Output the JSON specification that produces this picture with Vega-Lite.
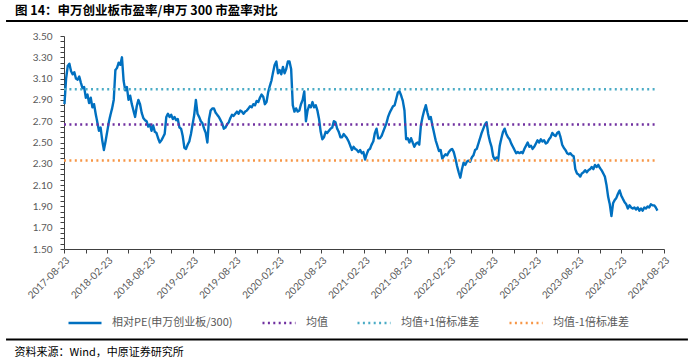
{
"$schema": "https://vega.github.io/schema/vega-lite/v6.json",
"width": 600, "height": 213,
"autosize": {"type": "none"},
"padding": {"left": 64, "top": 36, "right": 36, "bottom": 113},
"background": "white",
"title": {"text": "图 14：申万创业板市盈率/申万 300 市盈率对比", "anchor": "start", "frame": "group", "dx": -49, "offset": 3, "font": "Noto Sans CJK SC", "fontSize": 12.5, "fontWeight": "bold", "color": "#000000"},
"config": {"view": {"stroke": null}, "font": "Noto Sans CJK SC",
  "axis": {"labelOverlap": false},
  "legend": {"orient": "none", "legendX": 3, "legendY": 269, "direction": "horizontal", "columns": 4, "symbolType": "stroke", "symbolSize": 1089, "symbolStrokeWidth": 2.5, "labelFont": "Noto Sans CJK SC", "labelFontSize": 11, "labelColor": "#595959", "labelOffset": 9, "columnPadding": 24, "padding": 0, "title": null, "labelLimit": 400}},
"datasets": {
"pe": [
{"d":"2017-08-25","v":2.86},{"d":"2017-09-01","v":3.10},{"d":"2017-09-08","v":3.22},{"d":"2017-09-15","v":3.24},{"d":"2017-09-22","v":3.17},{"d":"2017-09-29","v":3.14},{"d":"2017-10-06","v":3.16},{"d":"2017-10-13","v":3.10},{"d":"2017-10-20","v":3.09},{"d":"2017-10-27","v":3.12},
{"d":"2017-11-03","v":3.06},{"d":"2017-11-10","v":3.01},{"d":"2017-11-17","v":3.02},{"d":"2017-11-24","v":2.92},{"d":"2017-12-01","v":2.95},{"d":"2017-12-08","v":2.87},{"d":"2017-12-15","v":2.92},{"d":"2017-12-22","v":2.83},{"d":"2017-12-29","v":2.86},
{"d":"2018-01-05","v":2.77},{"d":"2018-01-12","v":2.69},{"d":"2018-01-19","v":2.61},{"d":"2018-01-26","v":2.64},{"d":"2018-02-02","v":2.52},{"d":"2018-02-09","v":2.43},{"d":"2018-02-16","v":2.51},{"d":"2018-02-23","v":2.60},{"d":"2018-03-02","v":2.69},{"d":"2018-03-09","v":2.76},{"d":"2018-03-16","v":2.82},{"d":"2018-03-23","v":2.90},{"d":"2018-03-30","v":3.18},{"d":"2018-04-06","v":3.20},{"d":"2018-04-13","v":3.25},{"d":"2018-04-20","v":3.23},{"d":"2018-04-27","v":3.30},{"d":"2018-05-04","v":3.08},{"d":"2018-05-11","v":2.99},{"d":"2018-05-18","v":3.02},{"d":"2018-05-25","v":2.90},{"d":"2018-06-01","v":2.94},{"d":"2018-06-08","v":2.86},{"d":"2018-06-15","v":2.80},{"d":"2018-06-22","v":2.74},{"d":"2018-06-29","v":2.84},{"d":"2018-07-06","v":2.90},{"d":"2018-07-13","v":2.86},{"d":"2018-07-20","v":2.78},{"d":"2018-07-27","v":2.73},{"d":"2018-08-03","v":2.71},{"d":"2018-08-10","v":2.70},{"d":"2018-08-17","v":2.65},{"d":"2018-08-24","v":2.67},{"d":"2018-08-31","v":2.61},{"d":"2018-09-07","v":2.66},{"d":"2018-09-14","v":2.60},{"d":"2018-09-21","v":2.59},{"d":"2018-09-28","v":2.54},{"d":"2018-10-05","v":2.50},{"d":"2018-10-12","v":2.52},{"d":"2018-10-19","v":2.55},{"d":"2018-10-26","v":2.58},{"d":"2018-11-02","v":2.74},{"d":"2018-11-09","v":2.77},{"d":"2018-11-16","v":2.74},{"d":"2018-11-23","v":2.76},{"d":"2018-11-30","v":2.72},{"d":"2018-12-07","v":2.74},{"d":"2018-12-14","v":2.71},{"d":"2018-12-21","v":2.72},{"d":"2018-12-28","v":2.64},
{"d":"2019-01-04","v":2.63},{"d":"2019-01-11","v":2.56},{"d":"2019-01-18","v":2.45},{"d":"2019-01-25","v":2.44},{"d":"2019-02-01","v":2.48},{"d":"2019-02-08","v":2.51},{"d":"2019-02-15","v":2.58},{"d":"2019-02-22","v":2.67},{"d":"2019-03-01","v":2.76},{"d":"2019-03-08","v":2.90},{"d":"2019-03-15","v":2.77},{"d":"2019-03-22","v":2.74},{"d":"2019-03-29","v":2.70},{"d":"2019-04-05","v":2.68},{"d":"2019-04-12","v":2.63},{"d":"2019-04-19","v":2.59},{"d":"2019-04-26","v":2.50},{"d":"2019-05-03","v":2.72},{"d":"2019-05-10","v":2.80},{"d":"2019-05-17","v":2.82},{"d":"2019-05-24","v":2.82},{"d":"2019-05-31","v":2.78},{"d":"2019-06-07","v":2.76},{"d":"2019-06-14","v":2.74},{"d":"2019-06-21","v":2.71},{"d":"2019-06-28","v":2.68},{"d":"2019-07-05","v":2.63},{"d":"2019-07-12","v":2.64},{"d":"2019-07-19","v":2.67},{"d":"2019-07-26","v":2.69},{"d":"2019-08-02","v":2.73},{"d":"2019-08-09","v":2.76},{"d":"2019-08-16","v":2.75},{"d":"2019-08-23","v":2.77},{"d":"2019-08-30","v":2.79},{"d":"2019-09-06","v":2.77},{"d":"2019-09-13","v":2.80},{"d":"2019-09-20","v":2.79},{"d":"2019-09-27","v":2.77},{"d":"2019-10-04","v":2.79},{"d":"2019-10-11","v":2.80},{"d":"2019-10-18","v":2.82},{"d":"2019-10-25","v":2.84},{"d":"2019-11-01","v":2.83},{"d":"2019-11-08","v":2.86},{"d":"2019-11-15","v":2.85},{"d":"2019-11-22","v":2.89},{"d":"2019-11-29","v":2.88},{"d":"2019-12-06","v":2.92},{"d":"2019-12-13","v":2.95},{"d":"2019-12-20","v":2.93},{"d":"2019-12-27","v":2.86},
{"d":"2020-01-03","v":2.88},{"d":"2020-01-10","v":2.97},{"d":"2020-01-17","v":3.03},{"d":"2020-01-24","v":3.08},{"d":"2020-01-31","v":3.16},{"d":"2020-02-07","v":3.23},{"d":"2020-02-14","v":3.26},{"d":"2020-02-21","v":3.15},{"d":"2020-02-28","v":3.18},{"d":"2020-03-06","v":3.14},{"d":"2020-03-13","v":3.21},{"d":"2020-03-20","v":3.15},{"d":"2020-03-27","v":3.19},{"d":"2020-04-03","v":3.26},{"d":"2020-04-10","v":3.26},{"d":"2020-04-17","v":3.19},{"d":"2020-04-24","v":2.85},{"d":"2020-05-01","v":2.79},{"d":"2020-05-08","v":2.82},{"d":"2020-05-15","v":2.79},{"d":"2020-05-22","v":2.80},{"d":"2020-05-29","v":2.86},{"d":"2020-06-05","v":2.90},{"d":"2020-06-12","v":2.98},{"d":"2020-06-19","v":2.70},{"d":"2020-06-26","v":2.80},{"d":"2020-07-03","v":2.85},{"d":"2020-07-10","v":2.83},{"d":"2020-07-17","v":2.88},{"d":"2020-07-24","v":2.83},{"d":"2020-07-31","v":2.85},{"d":"2020-08-07","v":2.80},{"d":"2020-08-14","v":2.72},{"d":"2020-08-21","v":2.60},{"d":"2020-08-28","v":2.53},{"d":"2020-09-04","v":2.55},{"d":"2020-09-11","v":2.60},{"d":"2020-09-18","v":2.59},{"d":"2020-09-25","v":2.61},{"d":"2020-10-02","v":2.63},{"d":"2020-10-09","v":2.64},{"d":"2020-10-16","v":2.70},{"d":"2020-10-23","v":2.69},{"d":"2020-10-30","v":2.63},{"d":"2020-11-06","v":2.60},{"d":"2020-11-13","v":2.55},{"d":"2020-11-20","v":2.55},{"d":"2020-11-27","v":2.58},{"d":"2020-12-04","v":2.56},{"d":"2020-12-11","v":2.54},{"d":"2020-12-18","v":2.51},{"d":"2020-12-25","v":2.47},
{"d":"2021-01-01","v":2.43},{"d":"2021-01-08","v":2.46},{"d":"2021-01-15","v":2.44},{"d":"2021-01-22","v":2.43},{"d":"2021-01-29","v":2.41},{"d":"2021-02-05","v":2.43},{"d":"2021-02-12","v":2.40},{"d":"2021-02-19","v":2.41},{"d":"2021-02-26","v":2.34},{"d":"2021-03-05","v":2.39},{"d":"2021-03-12","v":2.43},{"d":"2021-03-19","v":2.44},{"d":"2021-03-26","v":2.48},{"d":"2021-04-02","v":2.51},{"d":"2021-04-09","v":2.59},{"d":"2021-04-16","v":2.63},{"d":"2021-04-23","v":2.54},{"d":"2021-04-30","v":2.54},{"d":"2021-05-07","v":2.56},{"d":"2021-05-14","v":2.60},{"d":"2021-05-21","v":2.64},{"d":"2021-05-28","v":2.68},{"d":"2021-06-04","v":2.74},{"d":"2021-06-11","v":2.78},{"d":"2021-06-18","v":2.81},{"d":"2021-06-25","v":2.84},{"d":"2021-07-02","v":2.85},{"d":"2021-07-09","v":2.91},{"d":"2021-07-16","v":2.97},{"d":"2021-07-23","v":2.98},{"d":"2021-07-30","v":2.94},{"d":"2021-08-06","v":2.89},{"d":"2021-08-13","v":2.80},{"d":"2021-08-20","v":2.53},{"d":"2021-08-27","v":2.54},{"d":"2021-09-03","v":2.50},{"d":"2021-09-10","v":2.54},{"d":"2021-09-17","v":2.50},{"d":"2021-09-24","v":2.46},{"d":"2021-10-01","v":2.49},{"d":"2021-10-08","v":2.50},{"d":"2021-10-15","v":2.48},{"d":"2021-10-22","v":2.66},{"d":"2021-10-29","v":2.74},{"d":"2021-11-05","v":2.80},{"d":"2021-11-12","v":2.85},{"d":"2021-11-19","v":2.78},{"d":"2021-11-26","v":2.72},{"d":"2021-12-03","v":2.74},{"d":"2021-12-10","v":2.66},{"d":"2021-12-17","v":2.59},{"d":"2021-12-24","v":2.52},{"d":"2021-12-31","v":2.47},
{"d":"2022-01-07","v":2.42},{"d":"2022-01-14","v":2.43},{"d":"2022-01-21","v":2.35},{"d":"2022-01-28","v":2.37},{"d":"2022-02-04","v":2.39},{"d":"2022-02-11","v":2.38},{"d":"2022-02-18","v":2.41},{"d":"2022-02-25","v":2.43},{"d":"2022-03-04","v":2.44},{"d":"2022-03-11","v":2.41},{"d":"2022-03-18","v":2.35},{"d":"2022-03-25","v":2.28},{"d":"2022-04-01","v":2.22},{"d":"2022-04-08","v":2.17},{"d":"2022-04-15","v":2.25},{"d":"2022-04-22","v":2.31},{"d":"2022-04-29","v":2.29},{"d":"2022-05-06","v":2.32},{"d":"2022-05-13","v":2.33},{"d":"2022-05-20","v":2.32},{"d":"2022-05-27","v":2.36},{"d":"2022-06-03","v":2.38},{"d":"2022-06-10","v":2.43},{"d":"2022-06-17","v":2.44},{"d":"2022-06-24","v":2.49},{"d":"2022-07-01","v":2.54},{"d":"2022-07-08","v":2.59},{"d":"2022-07-15","v":2.63},{"d":"2022-07-22","v":2.67},{"d":"2022-07-29","v":2.69},{"d":"2022-08-05","v":2.58},{"d":"2022-08-12","v":2.51},{"d":"2022-08-19","v":2.46},{"d":"2022-08-26","v":2.37},{"d":"2022-09-02","v":2.34},{"d":"2022-09-09","v":2.36},{"d":"2022-09-16","v":2.33},{"d":"2022-09-23","v":2.47},{"d":"2022-09-30","v":2.54},{"d":"2022-10-07","v":2.60},{"d":"2022-10-14","v":2.63},{"d":"2022-10-21","v":2.58},{"d":"2022-10-28","v":2.55},{"d":"2022-11-04","v":2.53},{"d":"2022-11-11","v":2.49},{"d":"2022-11-18","v":2.46},{"d":"2022-11-25","v":2.43},{"d":"2022-12-02","v":2.40},{"d":"2022-12-09","v":2.41},{"d":"2022-12-16","v":2.40},{"d":"2022-12-23","v":2.41},{"d":"2022-12-30","v":2.40},
{"d":"2023-01-06","v":2.44},{"d":"2023-01-13","v":2.47},{"d":"2023-01-20","v":2.50},{"d":"2023-01-27","v":2.46},{"d":"2023-02-03","v":2.47},{"d":"2023-02-10","v":2.44},{"d":"2023-02-17","v":2.46},{"d":"2023-02-24","v":2.49},{"d":"2023-03-03","v":2.52},{"d":"2023-03-10","v":2.50},{"d":"2023-03-17","v":2.53},{"d":"2023-03-24","v":2.51},{"d":"2023-03-31","v":2.52},{"d":"2023-04-07","v":2.49},{"d":"2023-04-14","v":2.50},{"d":"2023-04-21","v":2.53},{"d":"2023-04-28","v":2.55},{"d":"2023-05-05","v":2.59},{"d":"2023-05-12","v":2.57},{"d":"2023-05-19","v":2.56},{"d":"2023-05-26","v":2.59},{"d":"2023-06-02","v":2.60},{"d":"2023-06-09","v":2.55},{"d":"2023-06-16","v":2.48},{"d":"2023-06-23","v":2.45},{"d":"2023-06-30","v":2.43},{"d":"2023-07-07","v":2.40},{"d":"2023-07-14","v":2.39},{"d":"2023-07-21","v":2.40},{"d":"2023-07-28","v":2.38},{"d":"2023-08-04","v":2.37},{"d":"2023-08-11","v":2.25},{"d":"2023-08-18","v":2.21},{"d":"2023-08-25","v":2.20},{"d":"2023-09-01","v":2.18},{"d":"2023-09-08","v":2.21},{"d":"2023-09-15","v":2.22},{"d":"2023-09-22","v":2.24},{"d":"2023-09-29","v":2.22},{"d":"2023-10-06","v":2.24},{"d":"2023-10-13","v":2.25},{"d":"2023-10-20","v":2.27},{"d":"2023-10-27","v":2.25},{"d":"2023-11-03","v":2.29},{"d":"2023-11-10","v":2.27},{"d":"2023-11-17","v":2.29},{"d":"2023-11-24","v":2.26},{"d":"2023-12-01","v":2.24},{"d":"2023-12-08","v":2.21},{"d":"2023-12-15","v":2.18},{"d":"2023-12-22","v":2.10},{"d":"2023-12-29","v":1.99},
{"d":"2024-01-05","v":1.92},{"d":"2024-01-12","v":1.81},{"d":"2024-01-19","v":1.93},{"d":"2024-01-26","v":1.96},{"d":"2024-02-02","v":1.98},{"d":"2024-02-09","v":2.02},{"d":"2024-02-16","v":2.05},{"d":"2024-02-23","v":2.00},{"d":"2024-03-01","v":1.97},{"d":"2024-03-08","v":1.94},{"d":"2024-03-15","v":1.92},{"d":"2024-03-22","v":1.88},{"d":"2024-03-29","v":1.91},{"d":"2024-04-05","v":1.89},{"d":"2024-04-12","v":1.88},{"d":"2024-04-19","v":1.89},{"d":"2024-04-26","v":1.87},{"d":"2024-05-03","v":1.89},{"d":"2024-05-10","v":1.86},{"d":"2024-05-17","v":1.88},{"d":"2024-05-24","v":1.86},{"d":"2024-05-31","v":1.89},{"d":"2024-06-07","v":1.88},{"d":"2024-06-14","v":1.90},{"d":"2024-06-21","v":1.89},{"d":"2024-06-28","v":1.92},{"d":"2024-07-05","v":1.91},{"d":"2024-07-12","v":1.91},{"d":"2024-07-19","v":1.89},{"d":"2024-07-26","v":1.86}
],
"ref": [
{"s":"均值","d":"2017-08-23","v":2.67},{"s":"均值","d":"2024-07-22","v":2.67},
{"s":"均值+1倍标准差","d":"2017-08-23","v":3.0},{"s":"均值+1倍标准差","d":"2024-07-22","v":3.0},
{"s":"均值-1倍标准差","d":"2017-08-23","v":2.33},{"s":"均值-1倍标准差","d":"2024-07-22","v":2.33}
]
},
"layer": [
{
"data": {"name": "pe"},
"mark": {"type": "line", "strokeWidth": 2.4, "strokeJoin": "round"},
"encoding": {
"x": {"field": "d", "type": "temporal", "title": "资料来源：Wind，中原证券研究所",
  "scale": {"domain": [{"year":2017,"month":8,"date":23},{"year":2024,"month":8,"date":23}]},
  "axis": {"values": [{"year":2017,"month":8,"date":23},{"year":2017,"month":11,"date":23},{"year":2018,"month":2,"date":23},{"year":2018,"month":5,"date":23},{"year":2018,"month":8,"date":23},{"year":2018,"month":11,"date":23},{"year":2019,"month":2,"date":23},{"year":2019,"month":5,"date":23},{"year":2019,"month":8,"date":23},{"year":2019,"month":11,"date":23},{"year":2020,"month":2,"date":23},{"year":2020,"month":5,"date":23},{"year":2020,"month":8,"date":23},{"year":2020,"month":11,"date":23},{"year":2021,"month":2,"date":23},{"year":2021,"month":5,"date":23},{"year":2021,"month":8,"date":23},{"year":2021,"month":11,"date":23},{"year":2022,"month":2,"date":23},{"year":2022,"month":5,"date":23},{"year":2022,"month":8,"date":23},{"year":2022,"month":11,"date":23},{"year":2023,"month":2,"date":23},{"year":2023,"month":5,"date":23},{"year":2023,"month":8,"date":23},{"year":2023,"month":11,"date":23},{"year":2024,"month":2,"date":23},{"year":2024,"month":5,"date":23},{"year":2024,"month":8,"date":23}],
    "tickCount": 200,
    "labelExpr": "(month(datum.value) == 1 || month(datum.value) == 7) ? timeFormat(datum.value, '%Y-%m-%d') : ''",
    "labelAngle": -45, "labelFont": "Lato", "labelFontSize": 10, "labelColor": "#595959", "labelOverlap": false, "labelPadding": 2,
    "tickSize": 4, "tickColor": "#404040", "domainColor": "#404040", "grid": false,
    "titleX": -50, "titleY": 103, "titleAlign": "left", "titleBaseline": "middle", "titleFont": "Noto Sans CJK SC", "titleFontSize": 11, "titleFontWeight": "normal", "titleColor": "#000000"}},
"y": {"field": "v", "type": "quantitative", "title": null,
  "scale": {"domain": [1.5, 3.5], "zero": false, "nice": false},
  "axis": {"values": [1.5,1.55,1.6,1.65,1.7,1.75,1.8,1.85,1.9,1.95,2,2.05,2.1,2.15,2.2,2.25,2.3,2.35,2.4,2.45,2.5,2.55,2.6,2.65,2.7,2.75,2.8,2.85,2.9,2.95,3,3.05,3.1,3.15,3.2,3.25,3.3,3.35,3.4,3.45,3.5],
    "tickCount": 200,
    "labelExpr": "round(datum.value * 100) % 20 == 10 ? format(datum.value, '.2f') : ''",
    "labelFont": "Lato", "labelFontSize": 10, "labelColor": "#595959", "labelOverlap": false, "labelPadding": 8,
    "tickSize": 4, "tickColor": "#404040", "domainColor": "#404040", "grid": false}},
"color": {"datum": "相对PE(申万创业板/300)", "type": "nominal",
  "scale": {"domain": ["相对PE(申万创业板/300)", "均值", "均值+1倍标准差", "均值-1倍标准差"], "range": ["#0070C0", "#7030A0", "#4BACC6", "#F79646"]},
  "legend": {"orient": "none", "legendX": 3, "legendY": 269, "title": null}},
"strokeDash": {"datum": "相对PE(申万创业板/300)", "type": "nominal",
  "scale": {"domain": ["相对PE(申万创业板/300)", "均值", "均值+1倍标准差", "均值-1倍标准差"], "range": [[1, 0], [2, 3.4], [2, 3.4], [2, 3.4]]},
  "legend": {"orient": "none", "legendX": 3, "legendY": 269, "title": null}}
}
},
{
"data": {"name": "ref"},
"mark": {"type": "line", "strokeWidth": 2.5},
"encoding": {
"x": {"field": "d", "type": "temporal", "title": "资料来源：Wind，中原证券研究所"},
"y": {"field": "v", "type": "quantitative", "title": null},
"color": {"field": "s", "type": "nominal"},
"strokeDash": {"field": "s", "type": "nominal"}
}
},
{
"data": {"values": [{}]},
"mark": {"type": "rule", "color": "#000000", "strokeWidth": 2},
"encoding": {
"x": {"datum": {"year":2016,"month":12,"date":19}, "type": "temporal", "title": "资料来源：Wind，中原证券研究所"},
"x2": {"datum": {"year":2024,"month":12,"date":3}},
"y": {"datum": 3.64, "type": "quantitative", "title": null}
}
},
{
"data": {"values": [{}]},
"mark": {"type": "rule", "color": "#000000", "strokeWidth": 2},
"encoding": {
"x": {"datum": {"year":2016,"month":12,"date":19}, "type": "temporal", "title": "资料来源：Wind，中原证券研究所"},
"x2": {"datum": {"year":2024,"month":12,"date":3}},
"y": {"datum": 0.65, "type": "quantitative", "title": null}
}
}
]
}
